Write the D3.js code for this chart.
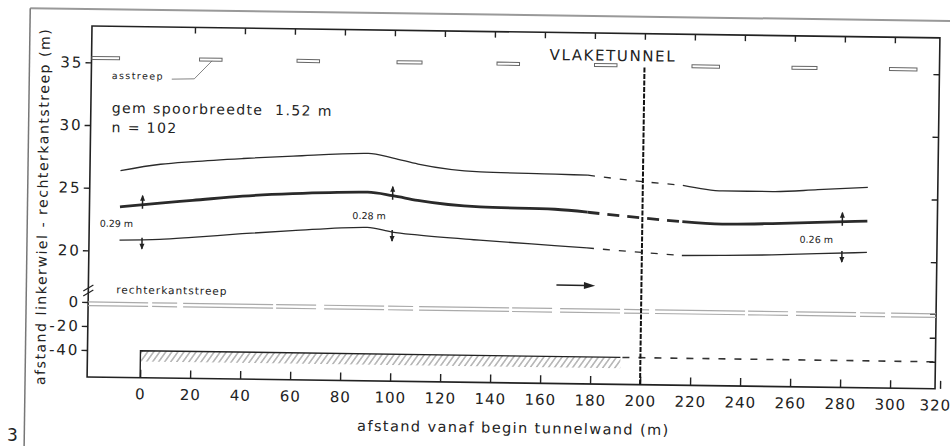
<!DOCTYPE html>
<html lang="nl">
<head>
<meta charset="utf-8">
<title>Vlaketunnel</title>
<script src="https://cdn.jsdelivr.net/npm/d3@7"></script>
<style>
  body { margin: 0; background: #fff; }
  text { font-family: "DejaVu Sans", sans-serif; fill: #222; }
  .as text { font-size: 15px; letter-spacing: 2px; }
</style>
</head>
<body>
<div id="chart"></div>
<script>
// afstand vanaf begin tunnelwand (m) en de drie sporen (m)
const afstand     = [-9, 7, 20, 40, 60, 90, 100, 110, 135, 165, 178, 200, 216, 232, 252, 270, 290];
const linkerRand  = [26.4, 26.95, 27.2, 27.5, 27.75, 28.05, 27.7, 27.25, 26.7, 26.6, 26.55, 26.1, 25.85, 25.45, 25.45, 25.65, 25.9];
const spoorMidden = [23.5, 23.85, 24.1, 24.5, 24.75, 24.95, 24.7, 24.35, 23.9, 23.8, 23.6, 23.2, 22.95, 22.8, 22.9, 23.05, 23.2];
const rechterRand = [20.85, 20.95, 21.15, 21.5, 21.8, 22.15, 21.8, 21.6, 21.25, 20.9, 20.75, 20.45, 20.25, 20.3, 20.4, 20.55, 20.7];
const stippelVan = 178, stippelTot = 216;

// spreiding bij drie doorsneden
const spreidingX     = [0, 100, 280];
const spreidingLabel = ["0.29 m", "0.28 m", "0.26 m"];

// asstreep-stukken (begin, eind) in m
const asstreepBegin = [-21, 22, 61, 101, 141, 180, 219, 259, 298];
const asstreepEind  = [-10, 31, 70, 111, 150, 189, 230, 269, 309];
const asstreepHoogte = 35.35;

const xTicks = [0, 20, 40, 60, 80, 100, 120, 140, 160, 180, 200, 220, 240, 260, 280, 300, 320];
const yTicksBoven = [20, 25, 30, 35];
const yTicksOnder = [0, -20, -40];

const tunnelBegin = 0, tunnelEind = 192, tunnelwand = -40, tunnelDikte = 9;

const W = 950, H = 446;
const svg = d3.select("#chart").append("svg")
  .attr("width", W).attr("height", H);

// the scanned sheet is a little rotated
const g = svg.append("g").attr("transform", "rotate(0.8 92 26)");

const x = d3.scaleLinear().domain([-21.2, 318]).range([92, 940]);
const yBoven = d3.scaleLinear().domain([17, 37.9]).range([288, 26]);
const yOnder = d3.scaleLinear().domain([-62.5, 0]).range([377, 302]);

// hatch pattern for the tunnel wall
const defs = svg.append("defs");
defs.append("pattern")
  .attr("id", "arcering").attr("patternUnits", "userSpaceOnUse")
  .attr("width", 6).attr("height", 10)
  .attr("patternTransform", "skewX(-35)")
  .append("line")
    .attr("x1", 2).attr("y1", 0).attr("x2", 2).attr("y2", 10)
    .attr("stroke", "#888").attr("stroke-width", 1.2);

// page border
g.append("line").attr("x1", 30).attr("y1", 9).attr("x2", 980).attr("y2", 9)
  .attr("stroke", "#999").attr("stroke-width", 2);
g.append("line").attr("x1", 30).attr("y1", 9).attr("x2", 30).attr("y2", 470)
  .attr("stroke", "#777").attr("stroke-width", 1.5);

// frame
g.append("rect")
  .attr("x", x.range()[0]).attr("y", 26)
  .attr("width", x.range()[1] - x.range()[0]).attr("height", 377 - 26)
  .attr("fill", "none").attr("stroke", "#222").attr("stroke-width", 1.6);

// axes
const asOnder = g.append("g").attr("transform", "translate(0,377)")
  .call(d3.axisBottom(x).tickValues(xTicks).tickSizeInner(-8).tickSizeOuter(0).tickPadding(11)
    .tickFormat(d => String(d)));
asOnder.select(".domain").remove();
asOnder.selectAll("text").attr("font-size", 15).attr("letter-spacing", 1).attr("fill", "#333")
  .attr("dx", d => d === 320 ? -5 : 0);
asOnder.selectAll("line").attr("stroke", "#222").attr("stroke-width", 1.4);

const asBoven = g.append("g").attr("transform", "translate(0,26)")
  .call(d3.axisTop(x).tickValues(xTicks.filter(d => d > 0 && d < 320)).tickSizeInner(-6).tickSizeOuter(0).tickFormat(""));
asBoven.select(".domain").remove();
asBoven.selectAll("line").attr("stroke", "#222").attr("stroke-width", 1.4);

[[yBoven, yTicksBoven], [yOnder, yTicksOnder]].forEach(([sc, tv]) => {
  const l = g.append("g").attr("class", "as").attr("transform", "translate(92,0)")
    .call(d3.axisLeft(sc).tickValues(tv).tickSizeInner(6).tickSizeOuter(0).tickPadding(2)
      .tickFormat(d => String(d)));
  l.select(".domain").remove();
  l.selectAll("line").attr("stroke", "#222").attr("stroke-width", 1.4);
  const r = g.append("g").attr("transform", "translate(940,0)")
    .call(d3.axisRight(sc).tickValues(tv).tickSizeInner(-6).tickSizeOuter(0).tickFormat(""));
  r.select(".domain").remove();
  r.selectAll("line").attr("stroke", "#222").attr("stroke-width", 1.4);
});

// axis break
[0, 5].forEach(o => {
  g.append("line")
    .attr("x1", 87).attr("y1", yBoven(17) + o + 3).attr("x2", 97).attr("y2", yBoven(17) + o - 3)
    .attr("stroke", "#222").attr("stroke-width", 1.2);
});

// asstreep
g.selectAll(".asstreep").data(asstreepBegin).join("rect")
  .attr("class", "asstreep")
  .attr("x", (d, i) => x(d)).attr("y", yBoven(asstreepHoogte) - 1.5)
  .attr("width", (d, i) => x(asstreepEind[i]) - x(d)).attr("height", 3)
  .attr("fill", "#fff").attr("stroke", "#666").attr("stroke-width", 1);
g.append("text").attr("x", x(-13)).attr("y", yBoven(33.7))
  .attr("font-size", 9.5).attr("letter-spacing", 1.4).attr("fill", "#555").text("asstreep");
g.append("path")
  .attr("d", d3.line()([[x(11), yBoven(33.75)], [x(20), yBoven(33.8)], [x(27), yBoven(35.25)]]))
  .attr("fill", "none").attr("stroke", "#666").attr("stroke-width", 0.8);

// rechterkantstreep
[0, -3].forEach(v => {
  g.append("line").attr("x1", 92).attr("x2", 940)
    .attr("y1", yOnder(v)).attr("y2", yOnder(v))
    .attr("stroke", "#aaa").attr("stroke-width", 1.2)
    .attr("stroke-dasharray", "60,4,25,6,90,3,40,8");
});
g.append("text").attr("x", x(-10)).attr("y", yOnder(7.5))
  .attr("font-size", 10.5).attr("letter-spacing", 1).attr("fill", "#444").text("rechterkantstreep");

// tunnel wall
g.append("rect")
  .attr("x", x(tunnelBegin)).attr("y", yOnder(tunnelwand))
  .attr("width", x(tunnelEind) - x(tunnelBegin))
  .attr("height", yOnder(tunnelwand - tunnelDikte) - yOnder(tunnelwand))
  .attr("fill", "url(#arcering)");
g.append("path")
  .attr("d", d3.line()([[x(tunnelBegin), yOnder(-62.5)], [x(tunnelBegin), yOnder(tunnelwand)], [x(tunnelEind), yOnder(tunnelwand)]]))
  .attr("fill", "none").attr("stroke", "#222").attr("stroke-width", 1.4);
g.append("line")
  .attr("x1", x(tunnelEind) + 2).attr("x2", x(318))
  .attr("y1", yOnder(tunnelwand)).attr("y2", yOnder(tunnelwand))
  .attr("stroke", "#333").attr("stroke-width", 1.6).attr("stroke-dasharray", "7,9");

// begin tunnel marker at 200
g.append("line")
  .attr("x1", x(200)).attr("x2", x(200))
  .attr("y1", yBoven(35.2)).attr("y2", yOnder(-62.5))
  .attr("stroke", "#111").attr("stroke-width", 2).attr("stroke-dasharray", "5,1.5");

// the three tracks
const lijn = d3.line().x(d => x(d[0])).y(d => yBoven(d[1])).curve(d3.curveMonotoneX);
const sporen = [
  { waarden: linkerRand, breedte: 1.3, stippel: "7,9" },
  { waarden: spoorMidden, breedte: 2.8, stippel: "12,8" },
  { waarden: rechterRand, breedte: 1.3, stippel: "7,9" }
];
sporen.forEach(s => {
  const pts = afstand.map((a, i) => [a, s.waarden[i]]);
  const delen = [
    { p: pts.filter(d => d[0] <= stippelVan), dash: null },
    { p: pts.filter(d => d[0] >= stippelVan && d[0] <= stippelTot), dash: s.stippel },
    { p: pts.filter(d => d[0] >= stippelTot), dash: null }
  ];
  delen.forEach(dl => {
    g.append("path").attr("d", lijn(dl.p))
      .attr("fill", "none").attr("stroke", "#2a2a2a")
      .attr("stroke-width", s.breedte).attr("stroke-dasharray", dl.dash);
  });
});

// spread markers
const interpMidden = d3.scaleLinear().domain(afstand).range(spoorMidden);
const interpRechts = d3.scaleLinear().domain(afstand).range(rechterRand);
spreidingX.forEach((sx, i) => {
  const px = x(sx);
  const ym = yBoven(interpMidden(sx)), yr = yBoven(interpRechts(sx));
  g.append("line").attr("x1", px).attr("x2", px).attr("y1", ym + 4).attr("y2", ym - 9)
    .attr("stroke", "#222").attr("stroke-width", 1.5);
  g.append("path").attr("d", `M${px - 2.5},${ym - 4}L${px},${ym - 10}L${px + 2.5},${ym - 4}Z`).attr("fill", "#222");
  g.append("line").attr("x1", px).attr("x2", px).attr("y1", yr - 2).attr("y2", yr + 9)
    .attr("stroke", "#222").attr("stroke-width", 1.5);
  g.append("path").attr("d", `M${px - 2.5},${yr + 4}L${px},${yr + 10}L${px + 2.5},${yr + 4}Z`).attr("fill", "#222");
});
const labelPos = [[-17, 21.9], [84, 22.8], [263, 21.4]];
g.selectAll(".spreiding").data(spreidingLabel).join("text")
  .attr("class", "spreiding")
  .attr("x", (d, i) => x(labelPos[i][0])).attr("y", (d, i) => yBoven(labelPos[i][1]))
  .attr("font-size", 9.5).attr("fill", (d, i) => i === 2 ? "#999" : "#333")
  .text(d => d);

// direction arrow
g.append("line").attr("x1", x(166)).attr("x2", x(178))
  .attr("y1", yBoven(17.75)).attr("y2", yBoven(17.75))
  .attr("stroke", "#222").attr("stroke-width", 1.5);
g.append("path")
  .attr("d", `M${x(177)},${yBoven(17.75) - 3.5}L${x(181.5)},${yBoven(17.75)}L${x(177)},${yBoven(17.75) + 3.5}Z`)
  .attr("fill", "#222");

// texts
g.append("text").attr("x", x(-12.8)).attr("y", yBoven(31.0))
  .attr("font-size", 14).attr("letter-spacing", 1.4).attr("xml:space", "preserve")
  .text("gem spoorbreedte  1.52 m");
g.append("text").attr("x", x(-12.8)).attr("y", yBoven(29.45))
  .attr("font-size", 14).attr("letter-spacing", 1.4).attr("xml:space", "preserve")
  .text("n = 102");
g.append("text").attr("x", x(162)).attr("y", yBoven(35.7))
  .attr("font-size", 15).attr("letter-spacing", 1.6).text("VLAKETUNNEL");

g.append("text")
  .attr("transform", "translate(50,207) rotate(-90)")
  .attr("text-anchor", "middle").attr("font-size", 14).attr("letter-spacing", 1.55)
  .attr("fill", "#333")
  .text("afstand linkerwiel - rechterkantstreep (m)");
g.append("text").attr("x", 519).attr("y", 427)
  .attr("text-anchor", "middle").attr("font-size", 14.5).attr("letter-spacing", 1.4)
  .attr("fill", "#333")
  .text("afstand vanaf begin tunnelwand (m)");

svg.append("text").attr("x", 7).attr("y", 441).attr("font-size", 17).text("3");
</script>
</body>
</html>
